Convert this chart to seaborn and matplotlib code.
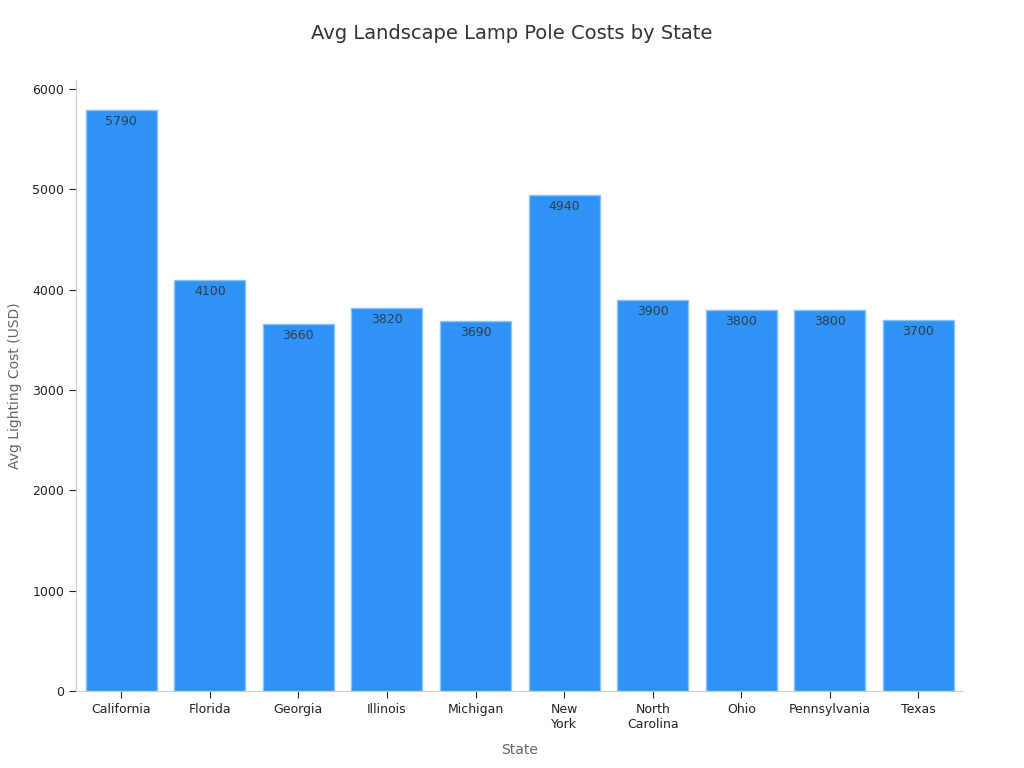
import matplotlib
matplotlib.use("Agg")
import matplotlib.pyplot as plt
import seaborn as sns
import pandas as pd

STATES = ["California", "Florida", "Georgia", "Illinois", "Michigan",
          "New York", "North Carolina", "Ohio", "Pennsylvania", "Texas"]
COSTS = [5790, 4100, 3660, 3820, 3690, 4940, 3900, 3800, 3800, 3700]
TICK_LABELS = ["California", "Florida", "Georgia", "Illinois", "Michigan",
               "New\nYork", "North\nCarolina", "Ohio", "Pennsylvania", "Texas"]

sns.set_style("white")
plt.rcParams["font.family"] = ["DejaVu Sans"]

df = pd.DataFrame({"State": STATES, "Cost": COSTS})

fig = plt.figure(figsize=(10.24, 7.68), dpi=100)
ax = fig.add_axes([0.0742, 0.1003, 0.866, 0.7957])

sns.barplot(data=df, x="State", y="Cost", color="#2f92f7", saturation=1,
            width=0.8, edgecolor="#8cc3fa", linewidth=1, ax=ax)

for i, v in enumerate(COSTS):
    ax.text(i, v - 50, f"{v}", ha="center", va="top", fontsize=9, color="#333c4a")

ax.set_xlim(-0.51, 9.5)
ax.set_ylim(0, 6090)
ax.set_yticks([0, 1000, 2000, 3000, 4000, 5000, 6000])
ax.set_xticks(range(len(STATES)))
ax.set_xticklabels(TICK_LABELS, fontsize=9, color="#222222")
ax.tick_params(axis="y", labelsize=9, colors="#222222", length=5, left=True)
ax.tick_params(axis="x", length=5, bottom=True)

for side in ["top", "right"]:
    ax.spines[side].set_visible(False)
for side in ["left", "bottom"]:
    ax.spines[side].set_color("#cccccc")

ax.set_xlabel("State", fontsize=10, color="#666666", labelpad=9)
ax.set_ylabel("Avg Lighting Cost (USD)", fontsize=10, color="#666666", labelpad=7)
fig.text(0.5, 0.957, "Avg Landscape Lamp Pole Costs by State", ha="center",
         va="center", fontsize=14, color="#333333")

fig.savefig("out.png", dpi=100)
